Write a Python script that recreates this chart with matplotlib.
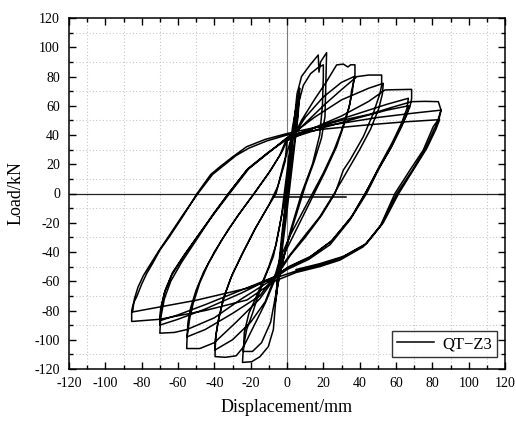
import matplotlib
matplotlib.use('Agg')
import matplotlib.pyplot as plt
from matplotlib.ticker import MultipleLocator
import numpy as np

# ── Hysteresis record of specimen QT-Z3, one list pair per displacement level ──
l1_disp = [0, 2, 4, 6, 7, 6, 3, 0, -3, -5, -6.5, -5.5, -3, -1, 1, 3, 5.5, 7, 6, 3, 0,
           -3, -5, -6, -5, -3, -1]
l1_load = [0, 25, 50, 65, 72, 55, 25, -5, -35, -58, -75, -62, -35, -10, 20, 45, 62, 68, 52, 20, -12,
           -42, -60, -72, -55, -30, -8]

l2_disp = [0, 2, 4, 5.5, 8, 12.7, 17.2, 17.6, 18.5, 21.8, 21.5, 20.9, 19, 15, 10, 5, 0, -4, -6,
           -7.5, -10.3, -14.9, -19.4, -24.5,
           -24, -22.2, -19, -16.7, -12, -7.5, -4, -1,
           1, 3, 6, 9, 13, 17, 20, 20, 19.5, 18, 14, 8, 2, -3, -6, -9, -14, -19, -24,
           -23.5, -21, -16, -10, -6, -3, -0.5]
l2_load = [10, 30, 50, 68, 80, 87.9, 94.7, 83, 90, 96.3, 82, 52.5, 38, 22, 5, -15, -35, -55, -70,
           -93, -104.7, -111.6, -115, -115.5,
           -105, -93, -82, -72.8, -57, -43, -22, -2,
           10, 35, 60, 74, 82, 86, 88, 80, 60, 40, 20, 0, -25, -50, -68, -88, -102, -108, -108,
           -95, -82, -68, -50, -35, -15, 10]

l3_disp = [2, 8, 15, 22, 27.3, 31, 33.5, 35, 37.4, 37.4, 35.5, 34.7, 31, 27.3, 21, 15, 9, 3, -3,
           -7, -12, -18, -24, -28, -34, -39.6,
           -39.5, -38, -35, -31, -25, -18, -11, -6, -2,
           2, 10, 20, 30, 37, 36, 34, 30, 26, 20, 14, 8, 2, -4, -7, -12, -20, -30, -39.6,
           -39, -37.5, -34.5, -30, -24, -17, -10, -5, -1]
l3_load = [35, 50, 64, 77, 87.9, 88.5, 86.5, 88, 88, 80, 70, 61.7, 45.7, 32, 15, 0, -15, -30, -45,
           -60, -75, -90, -105, -111, -112, -111.5,
           -100, -88, -72, -58, -42, -25, -10, 0, 20,
           36, 52, 66, 76, 80, 70, 58, 43, 30, 14, 0, -14, -28, -45, -58, -74, -88, -100, -107,
           -96, -85, -70, -55, -40, -23, -8, 5, 22]

l4_disp = [0, 10, 20, 30, 38.4, 45, 52.1, 52.1, 51.2, 47.5, 42, 34.7, 31, 26.4, 19, 10, 2, -5,
           -15, -28, -40, -48, -55.2,
           -55, -53.5, -51.6, -48, -43.3, -36, -27, -18, -10, -4,
           0, 15, 30, 45, 53, 52.5, 50.5, 46, 40, 33, 26, 18, 9, 1, -6, -15, -30, -45, -55,
           -54.5, -53, -50, -46, -40, -32, -24, -17, -9, -3]
l4_load = [36, 48, 60, 71, 79.9, 81, 81, 74, 68.5, 54.8, 38.8, 22.9, 16, 0, -15, -30, -42, -55,
           -72, -88, -102, -106, -106,
           -98, -85, -75, -61, -48, -32, -15, 0, 14, 26,
           38, 52, 64, 72, 75.3, 68, 58, 44, 30, 15, 0, -16, -30, -43, -55, -70, -82, -93, -98,
           -88, -78, -66, -54, -40, -24, -10, 2, 16, 28]

l5_disp = [0, 15, 30, 45, 53.9, 60, 68.6, 68.6, 67.7, 63.1, 57.6, 51.2, 43.8, 34.7, 23.7, 12, 0,
           -7, -25, -40, -55, -62, -70,
           -69.5, -67.5, -64, -58, -50, -41, -32.3, -22.2, -11.2,
           0, 20, 40, 55, 66.8, 66, 63, 58, 51, 44, 36, 25, 13, 1, -7, -25, -45, -60, -70,
           -69.5, -67.5, -63.5, -57, -49, -40, -31.5, -21.5, -10.5,
           0, 20, 40, 55, 67, 66, 62, 57, 50, 43, 35, 24, 12, 0, -7, -25, -45, -60, -70,
           -69.5, -67, -63, -56, -48, -39, -31, -21, -10]
l5_load = [36, 45, 53, 63, 70.8, 71, 71.2, 65, 59.4, 45.7, 32, 18.3, 0, -18, -35, -45, -52,
           -58, -72, -85, -93, -95, -95.5,
           -85, -72, -60, -47, -32, -15, 0, 16, 27,
           38, 47, 55, 61, 65.1, 58, 48, 35, 19, 2, -15, -32, -43, -50, -57, -68, -79, -86, -90,
           -80, -68, -56, -43, -29, -13, 1, 17, 28,
           37, 45, 52, 57, 60, 54, 44, 31, 16, 0, -17, -33, -44, -51, -57, -66, -76, -83, -87,
           -78, -66, -54, -41, -27, -12, 1, 17, 28]

l6_disp = [0, 15, 30, 45, 58, 68.6, 76, 83.3, 84.8, 83, 80.5, 75, 67.7, 59.4, 51.2, 42, 29.2,
           18, 5, -7, -22, -45, -70, -85.5,
           -85.5, -84.5, -82.7, -80, -77.2, -73.6, -69.9, -64.4, -57, -49.5, -42, -36.9, -30,
           -22.2, -12, 0,
           15, 30, 50, 70, 84.8, 83.5, 81, 76, 69, 60.5, 52, 43, 30, 18, 5, -7, -22, -50, -85,
           -84, -82, -79, -75, -71, -65, -57.5, -49, -41, -35, -28, -21, -11, 0,
           20, 45, 65, 84, 82, 77, 70, 61.5, 53, 44, 31, 18, 5]
l6_load = [38, 45, 50, 54, 59, 62.8, 63, 62.8, 57, 50, 45.7, 29.7, 16, 0, -22.7, -36.4, -45.5,
           -50, -54, -60, -72.8, -80, -86, -87.5,
           -80, -75, -70.5, -62, -54.6, -47, -38.6, -29, -15, 0, 13, 18.3, 25,
           32, 37, 41,
           45, 48, 52, 55, 57, 50, 44, 30, 16, 0, -21, -35, -44, -49, -53, -58, -64.8, -73, -81,
           -72, -64, -56, -48, -40, -29, -15, 0, 13, 19, 26, 31, 36, 40,
           44, 47, 49, 50.5, 44, 31, 17, 0, -20, -34, -43, -48, -52]

# short flat stretch recorded near zero load
tail_disp = [-7.5, 32.5]
tail_load = [-2.2, -2.2]

disp = np.concatenate([l1_disp, l2_disp, l3_disp, l4_disp, l5_disp, l6_disp])
load = np.concatenate([l1_load, l2_load, l3_load, l4_load, l5_load, l6_load])

plt.rcParams['font.family'] = ['Liberation Serif', 'DejaVu Serif']
plt.rcParams['axes.unicode_minus'] = False

fig = plt.figure(figsize=(5.16, 4.22), dpi=100)
ax = fig.add_axes([69 / 516, 53 / 422, 436 / 516, 351 / 422])

# dotted grid on the odd tens only
for v in range(-110, 120, 20):
    ax.axvline(v, color='#c8c8c8', lw=0.8, ls=(0, (1, 2)), zorder=0)
    ax.axhline(v, color='#c8c8c8', lw=0.8, ls=(0, (1, 2)), zorder=0)
ax.axvline(0, color='#7a7a7a', lw=0.8, zorder=1)
ax.axhline(0, color='#222222', lw=0.9, zorder=1)

ax.plot(disp, load, color='black', lw=1.1, label='QT\u2212Z3', zorder=3)
ax.plot(tail_disp, tail_load, color='black', lw=1.1, zorder=3)

ax.set_xlim(-120, 120)
ax.set_ylim(-120, 120)
ax.xaxis.set_major_locator(MultipleLocator(20))
ax.xaxis.set_minor_locator(MultipleLocator(10))
ax.yaxis.set_major_locator(MultipleLocator(20))
ax.yaxis.set_minor_locator(MultipleLocator(10))
ax.tick_params(which='both', direction='in', top=True, right=True, width=1, labelsize=10)
ax.tick_params(which='major', length=5)
ax.tick_params(which='minor', length=3)
ax.tick_params(axis='x', pad=6)
ax.tick_params(axis='y', pad=6.5)
for s in ax.spines.values():
    s.set_linewidth(1.1)

ax.set_xlabel('Displacement/mm', fontsize=13, labelpad=6)
ax.set_ylabel('Load/kN', fontsize=13, labelpad=7)

leg = ax.legend(loc='lower right', fontsize=12, frameon=True, fancybox=False,
                edgecolor='black', handlelength=2.2, handletextpad=0.5, borderpad=0.3,
                borderaxespad=0, bbox_to_anchor=(0.982, 0.034))
leg.get_frame().set_linewidth(1.0)

fig.savefig('out.png', dpi=100)
